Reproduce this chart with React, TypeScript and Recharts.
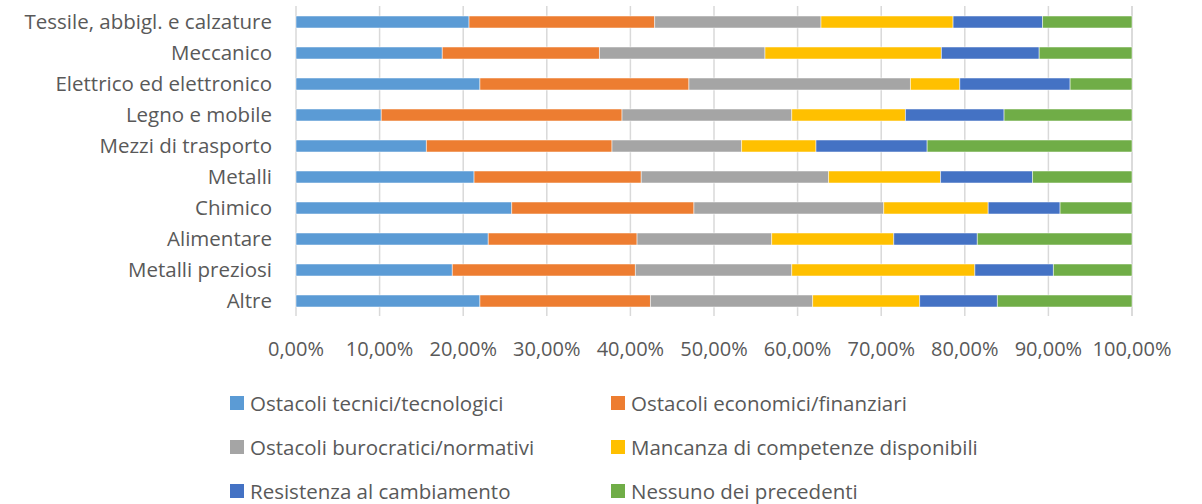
import React from 'react';
import { BarChart, Bar, XAxis, YAxis, CartesianGrid, Legend } from 'recharts';

const categories = [
  'Tessile, abbigl. e calzature',
  'Meccanico',
  'Elettrico ed elettronico',
  'Legno e mobile',
  'Mezzi di trasporto',
  'Metalli',
  'Chimico',
  'Alimentare',
  'Metalli preziosi',
  'Altre',
];

const tecnici = [20.7, 17.5, 22.0, 10.2, 15.6, 21.3, 25.8, 23.0, 18.7, 22.0];
const economici = [22.2, 18.8, 25.0, 28.8, 22.2, 20.0, 21.8, 17.8, 21.9, 20.4];
const burocratici = [19.9, 19.8, 26.5, 20.3, 15.5, 22.4, 22.7, 16.1, 18.7, 19.4];
const competenze = [15.8, 21.1, 5.9, 13.6, 8.9, 13.4, 12.5, 14.6, 21.9, 12.8];
const resistenza = [10.7, 11.7, 13.2, 11.8, 13.3, 11.0, 8.6, 10.0, 9.4, 9.3];
const nessuno = [10.7, 11.1, 7.4, 15.3, 24.5, 11.9, 8.6, 18.5, 9.4, 16.1];

const xTicks = [0, 10, 20, 30, 40, 50, 60, 70, 80, 90, 100];

const series = [
  { key: 'tecnici', label: 'Ostacoli tecnici/tecnologici', color: '#5B9BD5', values: tecnici },
  { key: 'economici', label: 'Ostacoli economici/finanziari', color: '#ED7D31', values: economici },
  { key: 'burocratici', label: 'Ostacoli burocratici/normativi', color: '#A5A5A5', values: burocratici },
  { key: 'competenze', label: 'Mancanza di competenze disponibili', color: '#FFC000', values: competenze },
  { key: 'resistenza', label: 'Resistenza al cambiamento', color: '#4472C4', values: resistenza },
  { key: 'nessuno', label: 'Nessuno dei precedenti', color: '#70AD47', values: nessuno },
];

const data = categories.map((name, i) => {
  const row: Record<string, any> = { name };
  series.forEach((s) => {
    row[s.key] = s.values[i];
  });
  return row;
});

const FONT = '"Open Sans", Lato, sans-serif';
const TEXT = '#595959';

const formatPct = (v: number) => v.toFixed(2).replace('.', ',') + '%';

function LegendGrid() {
  return (
    <div
      style={{
        display: 'grid',
        gridTemplateColumns: '381px 381px',
        gridAutoRows: '44px',
        paddingLeft: 230,
        fontFamily: FONT,
        fontSize: 20.5,
        color: TEXT,
      }}
    >
      {series.map((s) => (
        <div key={s.key} style={{ display: 'flex', alignItems: 'center', whiteSpace: 'nowrap' }}>
          <span style={{ width: 14, height: 14, background: s.color, marginRight: 6, flex: 'none' }} />
          <span>{s.label}</span>
        </div>
      ))}
    </div>
  );
}

export default function App() {
  return (
    <div style={{ position: 'absolute', left: 0, top: 0, width: 1202, height: 504, background: '#fff' }}>
      <BarChart
        width={1202}
        height={504}
        data={data}
        layout="vertical"
        margin={{ top: 6, right: 70, bottom: 148, left: 0 }}
        barSize={12}
      >
        <CartesianGrid horizontal={false} stroke="#d9d9d9" strokeWidth={1.5} />
        <XAxis
          type="number"
          domain={[0, 100]}
          ticks={xTicks}
          tickFormatter={formatPct}
          axisLine={false}
          tickLine={false}
          tickMargin={20}
          height={40}
          interval={0}
          tick={{ fill: TEXT, fontSize: 20, fontFamily: FONT }}
        />
        <YAxis
          type="category"
          dataKey="name"
          width={296}
          axisLine={false}
          tickLine={false}
          tickMargin={18}
          interval={0}
          tick={{ fill: TEXT, fontSize: 20.5, fontFamily: FONT }}
        />
        <Legend
          content={() => <LegendGrid />}
          wrapperStyle={{ position: 'absolute', left: 0, top: 381, width: 1202, height: 0, overflow: 'visible' }}
        />
        {series.map((s) => (
          <Bar
            key={s.key}
            dataKey={s.key}
            name={s.label}
            stackId="a"
            fill={s.color}
            stroke="#ffffff"
            strokeWidth={0.5}
            isAnimationActive={false}
          />
        ))}
      </BarChart>
    </div>
  );
}
